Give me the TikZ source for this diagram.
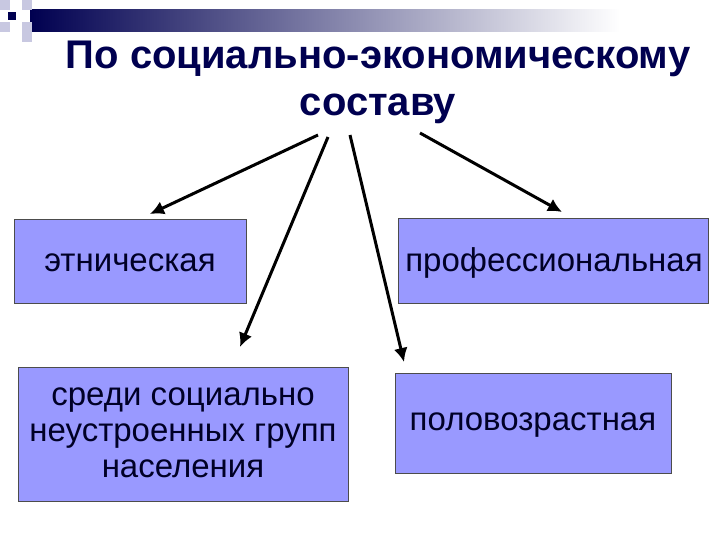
\documentclass[tikz,border=0pt]{standalone}
\usepackage{fontspec}
\setmainfont{Liberation Sans}
\usetikzlibrary{arrows.meta}
\definecolor{navy}{RGB}{0,0,80}
\definecolor{boxfill}{RGB}{153,153,255}
\definecolor{lsq}{RGB}{200,200,225}
\begin{document}
\begin{tikzpicture}[x=1pt,y=-1pt,
  box/.style={draw=black!70,fill=boxfill,line width=0.8pt,inner sep=0pt},
  lbl/.style={font=\fontsize{33}{36}\selectfont,align=center,text=black!85!blue,inner sep=0pt},
  arr/.style={line width=3pt,-{Latex[length=14pt,width=14pt]}}]
\useasboundingbox[fill=white] (0,0) rectangle (720,540);
\shade[left color=navy,right color=white] (30,10) rectangle (620,32);
\fill[lsq] (0,0) rectangle (10,10);
\fill[lsq] (22,0) rectangle (32,10);
\fill[lsq] (0,22) rectangle (10,32);
\fill[lsq] (22,22) rectangle (32,42);
\fill[navy] (8,12) rectangle (16,20);
\node[font=\bfseries\fontsize{40}{47}\selectfont,text=navy,align=center] (title) at (378,82) {По социально-экономическому\\составу};
\node[box,minimum width=232,minimum height=84] (a) at (130,261) {};
\node[lbl] at (130,263) {этническая};
\node[box,minimum width=310,minimum height=85] (b) at (553,260.5) {};
\node[lbl] at (554,263) {профессиональная};
\node[box,minimum width=330,minimum height=134] (c) at (183,434) {};
\node[lbl] at (183,433) {среди социально\\неустроенных групп\\населения};
\node[box,minimum width=276,minimum height=100] (d) at (533,423) {};
\node[lbl] at (533,425) {половозрастная};
\coordinate (s1) at (318,135); \coordinate (e1) at (150,214);
\coordinate (s2) at (328,137); \coordinate (e2) at (240,347);
\coordinate (s3) at (350,135); \coordinate (e3) at (404,362);
\coordinate (s4) at (420,133); \coordinate (e4) at (562,212);
\draw[arr] (s1) -- (e1);
\draw[arr] (s2) -- (e2);
\draw[arr] (s3) -- (e3);
\draw[arr] (s4) -- (e4);
\end{tikzpicture}
\end{document}
